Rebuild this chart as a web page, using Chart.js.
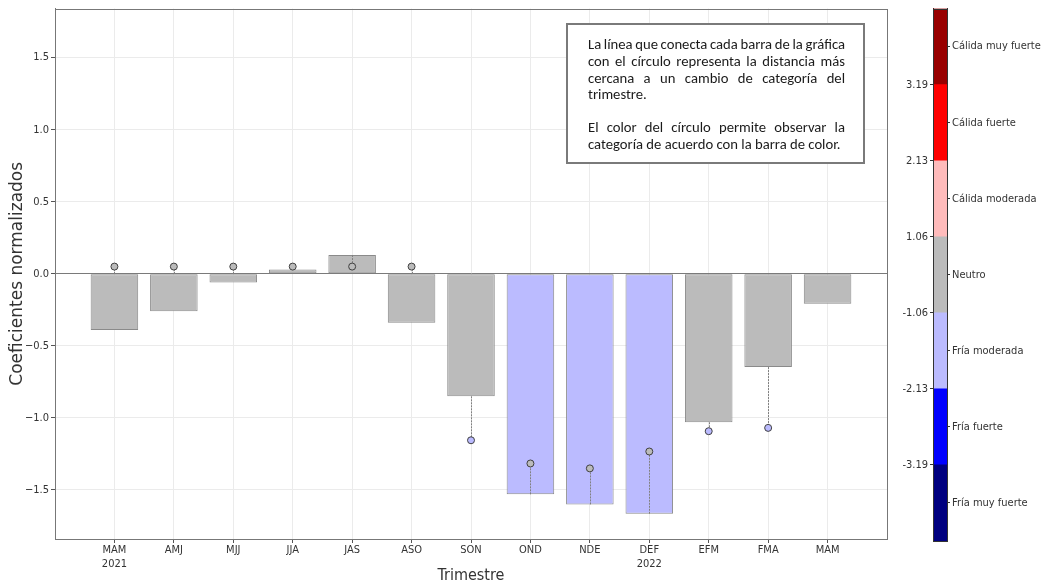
<!DOCTYPE html>
<html>
<head>
<meta charset="utf-8">
<script src="https://cdn.jsdelivr.net/npm/chart.js@4.4.1/dist/chart.umd.min.js"></script>
<style>
  html, body { margin: 0; padding: 0; background: #fff; }
  #wrap { position: relative; width: 1047px; height: 586px; overflow: hidden; }
  #main { position: absolute; left: 0; top: 0; }
  #cbar { position: absolute; left: 890px; top: 0; }
</style>
</head>
<body>
<div id="wrap">
  <canvas id="main" width="900" height="586"></canvas>
  <canvas id="cbar" width="157" height="586"></canvas>
</div>
<script>
// Trimestres móviles (MAM 2021 – MAM 2022)
const trimestres = [['MAM', '2021'], 'AMJ', 'MJJ', 'JJA', 'JAS', 'ASO', 'SON', 'OND', 'NDE', ['DEF', '2022'], 'EFM', 'FMA', 'MAM'];

// Coeficiente normalizado de cada trimestre
const coeficientes = [-0.39, -0.26, -0.06, 0.03, 0.13, -0.34, -0.85, -1.53, -1.60, -1.665, -1.03, -0.647, -0.208];
const categoriaBarra = ['Neutro', 'Neutro', 'Neutro', 'Neutro', 'Neutro', 'Neutro', 'Neutro',
  'Fría moderada', 'Fría moderada', 'Fría moderada', 'Neutro', 'Neutro', 'Neutro'];

// Posición del círculo (distancia más cercana a un cambio de categoría) y su categoría
const circulo = [0.05, 0.05, 0.05, 0.05, 0.05, 0.05, -1.155, -1.316, -1.35, -1.233, -1.092, -1.069, null];
const categoriaCirculo = ['Neutro', 'Neutro', 'Neutro', 'Neutro', 'Neutro', 'Neutro', 'Fría moderada',
  'Neutro', 'Neutro', 'Neutro', 'Fría moderada', 'Fría moderada', null];

// Marcas del eje vertical
const yTicks = [-1.5, -1.0, -0.5, 0.0, 0.5, 1.0, 1.5];

// Barra de color: categorías (de abajo hacia arriba), colores y umbrales
const categorias = ['Fría muy fuerte', 'Fría fuerte', 'Fría moderada', 'Neutro', 'Cálida moderada', 'Cálida fuerte', 'Cálida muy fuerte'];
const coloresCategoria = ['#000080', '#0000ff', '#bbbbff', '#bbbbbb', '#ffbbbb', '#ff0000', '#990000'];
const umbrales = ['-3.19', '-2.13', '-1.06', '1.06', '2.13', '3.19'];

// Texto del recuadro explicativo
const notaLineas = [
  { t: 'La línea que conecta cada barra de la gráfica', j: true },
  { t: 'con el círculo representa la distancia más', j: true },
  { t: 'cercana a un cambio de categoría del', j: true },
  { t: 'trimestre.', j: false },
  { t: '', j: false },
  { t: 'El color del círculo permite observar la', j: true },
  { t: 'categoría de acuerdo con la barra de color.', j: false }
];

const colorDe = c => coloresCategoria[categorias.indexOf(c)];

// Marco alrededor del área de trazado
const marco = {
  id: 'marco',
  afterDraw(chart, args, opts) {
    const { ctx, chartArea: a } = chart;
    ctx.save();
    ctx.strokeStyle = opts.color || '#777';
    ctx.lineWidth = 1;
    ctx.strokeRect(Math.round(a.left) + 0.5, Math.round(a.top) + 0.5,
      Math.round(a.right - a.left), Math.round(a.bottom - a.top));
    ctx.restore();
  }
};

// Líneas punteadas entre el extremo de cada barra y su círculo
const conectores = {
  id: 'conectores',
  afterDatasetDraw(chart, args) {
    if (args.index !== 1) return;
    const { ctx, scales: { x, y } } = chart;
    ctx.save();
    ctx.strokeStyle = '#808080';
    ctx.lineWidth = 1;
    ctx.setLineDash([2, 1]);
    coeficientes.forEach((v, i) => {
      const c = circulo[i];
      if (c === null) return;
      const desde = Math.sign(v) === Math.sign(c) ? v : 0;
      const px = Math.round(x.getPixelForValue(i)) + 0.5;
      ctx.beginPath();
      ctx.moveTo(px, y.getPixelForValue(desde));
      ctx.lineTo(px, y.getPixelForValue(c));
      ctx.stroke();
    });
    ctx.restore();
  }
};

// Recuadro con la explicación, texto justificado
const nota = {
  id: 'nota',
  afterDraw(chart) {
    const ctx = chart.ctx;
    const bx = 567, by = 24, bw = 297, bh = 139;
    const tx = 588, tw = 257, y0 = 49, lh = 16.8;
    ctx.save();
    ctx.fillStyle = '#fff';
    ctx.fillRect(bx, by, bw, bh);
    ctx.strokeStyle = '#7a7a7a';
    ctx.lineWidth = 2;
    ctx.strokeRect(bx, by, bw, bh);
    ctx.font = '14.67px Carlito';
    ctx.fillStyle = '#1a1a1a';
    ctx.textBaseline = 'alphabetic';
    ctx.textAlign = 'left';
    notaLineas.forEach((ln, k) => {
      const yy = y0 + k * lh + (k >= 5 ? -1 : 0);
      if (!ln.t) return;
      const palabras = ln.t.split(' ');
      if (!ln.j || palabras.length < 2) {
        ctx.fillText(ln.t, tx, yy);
        return;
      }
      const anchos = palabras.map(p => ctx.measureText(p).width);
      const total = anchos.reduce((a, b) => a + b, 0);
      const hueco = Math.max((tw - total) / (palabras.length - 1), 2);
      let xx = tx;
      palabras.forEach((p, m) => {
        ctx.fillText(p, xx, yy);
        xx += anchos[m] + hueco;
      });
    });
    ctx.restore();
  }
};

new Chart(document.getElementById('main'), {
  type: 'bar',
  data: {
    datasets: [
      {
        type: 'line',
        label: 'Círculo',
        data: circulo.map((v, i) => ({ x: i, y: v })),
        showLine: false,
        pointRadius: 3.5,
        pointHoverRadius: 3.5,
        pointBorderWidth: 1,
        pointBorderColor: '#404040',
        pointBackgroundColor: categoriaCirculo.map(c => c ? colorDe(c) : 'transparent'),
        order: 1
      },
      {
        type: 'bar',
        label: 'Coeficiente',
        data: coeficientes.map((v, i) => ({ x: i, y: v })),
        backgroundColor: categoriaBarra.map(colorDe),
        borderColor: '#8a8a8a',
        borderWidth: 1,
        borderSkipped: false,
        barPercentage: 1,
        categoryPercentage: 0.8,
        order: 2
      }
    ]
  },
  options: {
    responsive: false,
    animation: false,
    events: [],
    layout: { padding: { top: 7, right: 13, left: 0, bottom: 0 } },
    plugins: {
      legend: { display: false },
      tooltip: { enabled: false },
      marco: { color: '#777' }
    },
    scales: {
      x: {
        type: 'linear',
        min: -1,
        max: 13,
        offset: false,
        afterBuildTicks: s => { s.ticks = trimestres.map((t, i) => ({ value: i })); },
        ticks: {
          callback: v => trimestres[Math.round(v)],
          autoSkip: false,
          maxRotation: 0,
          padding: 1,
          color: '#333',
          font: { family: "'DejaVu Sans Condensed'", size: 11, lineHeight: 1.2 }
        },
        grid: { color: '#ebebeb', tickColor: '#555', tickLength: 4, offset: false },
        border: { color: '#777' },
        title: {
          display: true,
          text: 'Trimestre',
          color: '#333',
          font: { family: "'DejaVu Sans Condensed'", size: 16 },
          padding: { top: 0, bottom: 1 }
        },
        afterFit: s => { s.height = 47; }
      },
      y: {
        type: 'linear',
        min: -1.84,
        max: 1.84,
        afterBuildTicks: s => { s.ticks = yTicks.map(v => ({ value: v })); },
        ticks: {
          callback: v => (v < 0 ? '\u2212' : '') + Math.abs(v).toFixed(1),
          padding: 2,
          color: '#333',
          font: { family: "'DejaVu Sans Condensed'", size: 11 }
        },
        grid: {
          color: c => (c.tick && c.tick.value === 0) ? '#7a7a7a' : '#ebebeb',
          tickColor: '#555',
          tickLength: 4
        },
        border: { color: '#777' },
        title: {
          display: true,
          text: 'Coeficientes normalizados',
          color: '#333',
          font: { family: "'DejaVu Sans'", size: 17 },
          padding: { top: 7, bottom: 0 }
        },
        afterFit: s => { s.width = 55; }
      }
    }
  },
  plugins: [conectores, nota, marco]
});

// Barra de color con las categorías
new Chart(document.getElementById('cbar'), {
  type: 'bar',
  data: {
    labels: [''],
    datasets: categorias.map((c, i) => ({
      label: c,
      data: [1],
      backgroundColor: coloresCategoria[i],
      borderWidth: 0,
      barPercentage: 1,
      categoryPercentage: 1
    }))
  },
  options: {
    responsive: false,
    animation: false,
    events: [],
    layout: { padding: { top: 7, bottom: 45, left: 0, right: 0 } },
    plugins: {
      legend: { display: false },
      tooltip: { enabled: false },
      marco: { color: '#333' }
    },
    scales: {
      x: { display: false, stacked: true },
      y: {
        stacked: true,
        position: 'left',
        min: 0,
        max: 7,
        afterBuildTicks: s => { s.ticks = umbrales.map((u, i) => ({ value: i + 1 })); },
        ticks: {
          callback: v => umbrales[Math.round(v) - 1],
          padding: 2,
          color: '#333',
          font: { family: "'DejaVu Sans Condensed'", size: 11 }
        },
        grid: { drawOnChartArea: false, tickLength: 3, tickColor: '#333' },
        border: { color: '#333' },
        afterFit: s => { s.width = 43; }
      },
      yr: {
        type: 'linear',
        position: 'right',
        min: 0,
        max: 7,
        afterBuildTicks: s => { s.ticks = categorias.map((c, i) => ({ value: i + 0.5 })); },
        ticks: {
          callback: v => categorias[Math.round(v - 0.5)],
          padding: 2,
          color: '#333',
          font: { family: "'DejaVu Sans Condensed'", size: 11 }
        },
        grid: { drawOnChartArea: false, tickLength: 3, tickColor: '#333' },
        border: { color: '#333' },
        afterFit: s => { s.width = 100; }
      }
    }
  },
  plugins: [marco]
});
</script>
</body>
</html>
